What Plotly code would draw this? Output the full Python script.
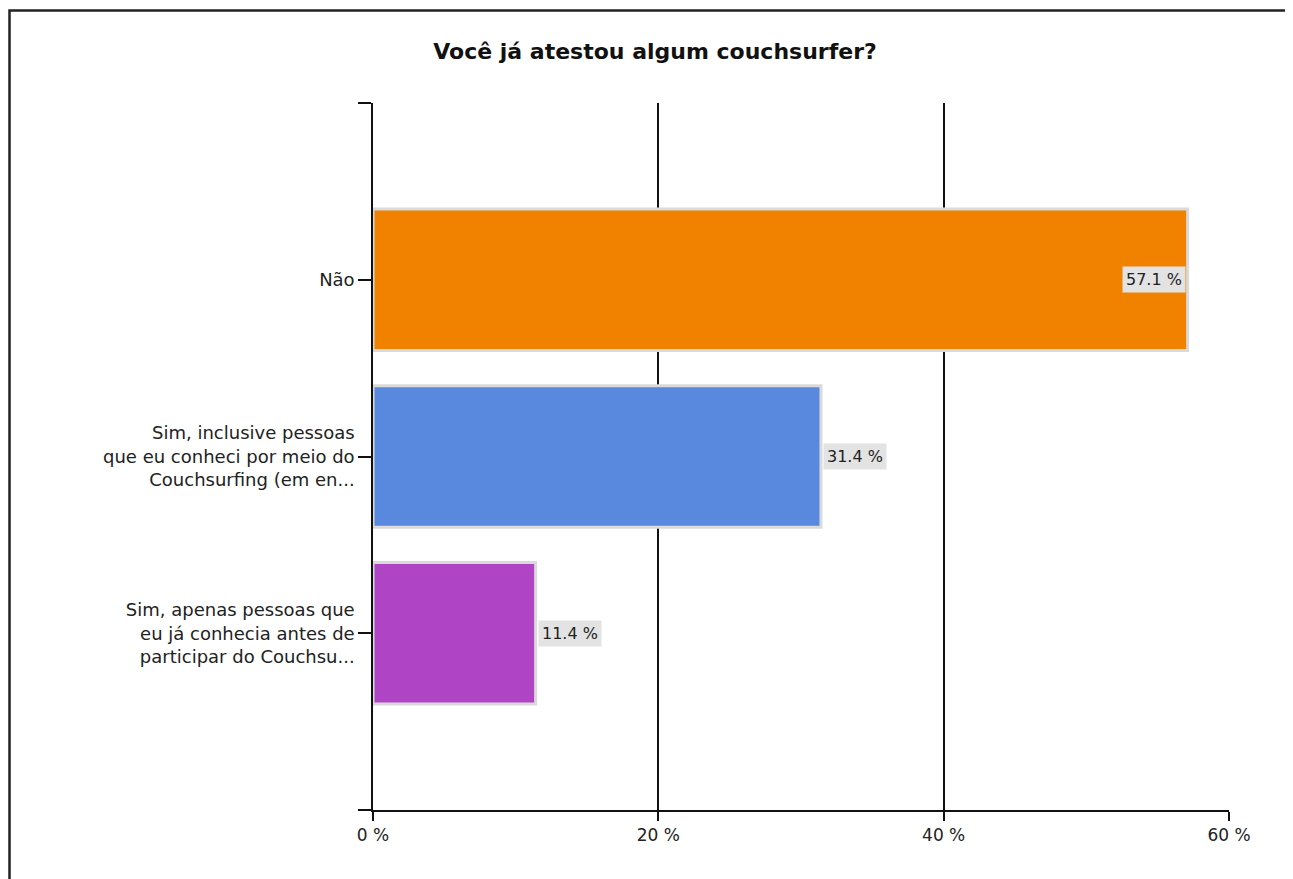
import plotly.graph_objects as go

title = "Você já atestou algum couchsurfer?"
categories = [
    "Não",
    "Sim, inclusive pessoas<br>que eu conheci por meio do<br>Couchsurfing (em en...",
    "Sim, apenas pessoas que<br>eu já conhecia antes de<br>participar do Couchsu...",
]
values = [57.1, 31.4, 11.4]
colors = ["#F08200", "#5889DE", "#AF45C5"]
x_ticks = [0, 20, 40, 60]
x_ticktext = ["0 %", "20 %", "40 %", "60 %"]

positions = list(range(len(categories)))
FONT = "DejaVu Sans, Liberation Sans, Arial"

fig = go.Figure()
fig.add_trace(go.Bar(
    x=values, y=positions, orientation="h", width=0.8,
    marker=dict(color=colors, line=dict(color="#DADADA", width=3)),
    hoverinfo="x+y", showlegend=False,
))

annotations = []
for i, v in enumerate(values):
    inside = v > 40
    annotations.append(dict(
        x=v, y=i, xref="x", yref="y",
        text=f"{v:.1f} %",
        showarrow=False,
        xanchor="right" if inside else "left",
        xshift=-2 if inside else 2,
        bgcolor="#E3E3E3",
        font=dict(family=FONT, size=16, color="#222"),
        borderpad=3,
    ))

W, H = 1285, 871  # page body has an 8px margin
fig.update_layout(
    width=W, height=H,
    margin=dict(l=365, r=W - 1221, t=95, b=H - 802),
    paper_bgcolor="white", plot_bgcolor="white",
    title=dict(
        text=f"<b>{title}</b>", xref="container", yref="container",
        x=647 / W, y=1 - 43 / H, xanchor="center", yanchor="middle",
        font=dict(family=FONT, size=22, color="#111"),
    ),
    annotations=annotations,
    bargap=0.2,
    xaxis=dict(
        range=[0, 60], tickvals=x_ticks, ticktext=x_ticktext,
        showgrid=True, gridcolor="#111", gridwidth=1.5,
        zeroline=False, showline=True, linecolor="#111", linewidth=2,
        ticks="outside", ticklen=9, tickcolor="#111", tickwidth=1.5,
        tickfont=dict(family=FONT, size=17, color="#222"),
    ),
    yaxis=dict(
        range=[3, -1],
        tickvals=[-1] + positions + [3],
        ticktext=[""] + categories + [""],
        showgrid=False, zeroline=False,
        showline=True, linecolor="#111", linewidth=1.5,
        ticks="outside", ticklen=13, tickcolor="#111", tickwidth=1.5,
        tickfont=dict(family=FONT, size=18, color="#222"),
    ),
    shapes=[dict(
        type="rect", xref="paper", yref="paper",
        x0=(9.5 - 373) / 856, x1=2, y0=-1, y1=(810 - 10.5) / 707,
        line=dict(color="#222", width=2.5), fillcolor="rgba(0,0,0,0)", layer="above",
    )],
)

fig.write_html("out.html")
